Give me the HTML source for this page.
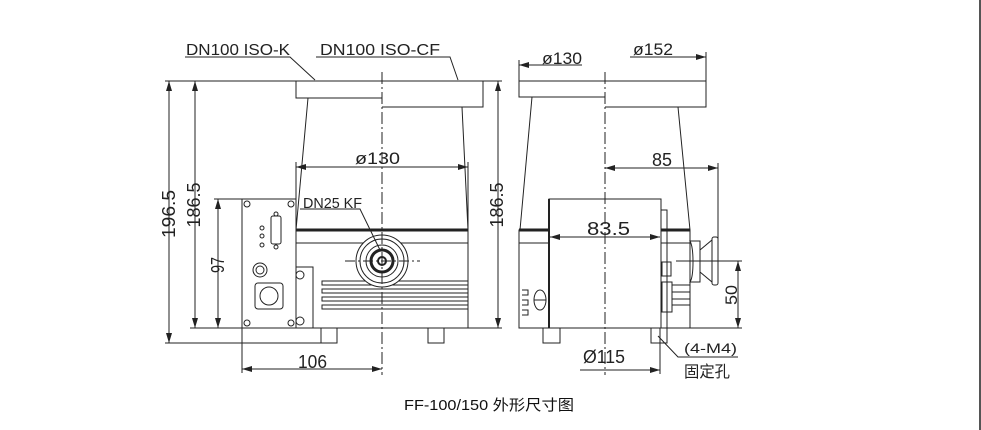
<!DOCTYPE html>
<html><head><meta charset="utf-8"><style>
html,body{margin:0;padding:0;background:#fff;width:981px;height:430px;overflow:hidden}
svg{display:block}
.t{font-family:"Liberation Sans Narrow","Liberation Sans",sans-serif;fill:#222}
</style></head><body>
<svg width="981" height="430" viewBox="0 0 981 430" xmlns="http://www.w3.org/2000/svg">
<defs>
<marker id="a" viewBox="0 0 10 6" refX="10" refY="3" markerWidth="10" markerHeight="6" orient="auto-start-reverse" markerUnits="userSpaceOnUse"><path d="M0,0L10,3L0,6z" fill="#222"/></marker>
</defs>
<g stroke="#222" fill="none" stroke-width="1">
<path d="M296,81H483V107H382M382,98H296V81"/>
<path d="M308,98L296,230M462,107L468,230"/>
<rect x="296" y="230" width="172" height="98"/>
<line x1="296" y1="230" x2="468" y2="230" stroke-width="3"/>
<line x1="296" y1="243" x2="468" y2="243"/>
<g>
<rect x="322" y="281" width="146" height="4"/><rect x="322" y="289" width="146" height="4"/>
<rect x="322" y="297" width="146" height="4"/><rect x="322" y="305" width="146" height="4"/>
</g>
<circle cx="382" cy="261" r="26" fill="#fff"/>
<circle cx="382" cy="261" r="22"/>
<circle cx="382" cy="261" r="16"/>
<circle cx="382" cy="261" r="11" stroke-width="3"/>
<circle cx="382" cy="261" r="4" stroke-width="2"/>
<line x1="345" y1="261" x2="420" y2="261" stroke-dasharray="10,3,2,3"/>
<rect x="242" y="199" width="54" height="129"/>
<rect x="296" y="267" width="17" height="61"/>
<circle cx="300" cy="275" r="4"/><circle cx="300" cy="321" r="4"/>
<circle cx="247" cy="204" r="3"/><circle cx="291" cy="204" r="3"/><circle cx="247" cy="323" r="3"/><circle cx="291" cy="323" r="3"/>
<rect x="271" y="216" width="10" height="28" rx="2"/>
<circle cx="276" cy="214" r="2"/><circle cx="276" cy="247" r="2"/>
<circle cx="262" cy="228" r="2"/><circle cx="262" cy="236" r="2"/><circle cx="262" cy="245" r="2"/>
<circle cx="260" cy="270" r="7"/><circle cx="260" cy="270" r="4"/>
<rect x="255" y="283" width="28" height="26" rx="3"/>
<circle cx="269" cy="296" r="9"/>
<rect x="321" y="328" width="16" height="15"/><rect x="428" y="328" width="16" height="15"/>
<line x1="382" y1="72" x2="382" y2="375" stroke-dasharray="12,3,2,3"/>
<path d="M165,81H296M190,328H296M165,343H321M214,199H242"/>
<line x1="169" y1="81" x2="169" y2="343" marker-start="url(#a)" marker-end="url(#a)"/>
<line x1="195" y1="81" x2="195" y2="328" marker-start="url(#a)" marker-end="url(#a)"/>
<line x1="218" y1="199" x2="218" y2="328" marker-start="url(#a)" marker-end="url(#a)"/>
<path d="M483,81H502M468,328H502"/>
<line x1="498" y1="81" x2="498" y2="328" marker-start="url(#a)" marker-end="url(#a)"/>
<line x1="296" y1="162" x2="296" y2="230"/><line x1="468" y1="162" x2="468" y2="230"/>
<line x1="296" y1="167" x2="468" y2="167" marker-start="url(#a)" marker-end="url(#a)"/>
<line x1="242" y1="328" x2="242" y2="373"/>
<line x1="242" y1="369" x2="382" y2="369" marker-start="url(#a)" marker-end="url(#a)"/>
<path d="M185,57H290L315,80" />
<path d="M316,57H450L458,80"/>
<path d="M300,209H360L380,250"/>
<path d="M519,81H706V107H605M605,97H519V81"/>
<path d="M532,97L520,230M678,107L690,230"/>
<rect x="519" y="230" width="171" height="98"/>
<line x1="519" y1="230" x2="690" y2="230" stroke-width="3"/>
<line x1="519" y1="243" x2="690" y2="243"/>
<rect x="549" y="199" width="112" height="129" fill="#fff"/>
<line x1="549" y1="199" x2="549" y2="328" stroke-width="2"/>
<rect x="661" y="210" width="6" height="118"/>
<rect x="662" y="262" width="9" height="14"/>
<rect x="662" y="282" width="10" height="30"/>
<path d="M672,285H690M672,292H690M672,299H690M672,305H690"/>
<path d="M690,241C694,248 694,276 690,282H700V241Z"/>
<path d="M700,250L712,240V282L700,272"/>
<rect x="712" y="237" width="6" height="48" rx="2"/>
<path d="M522,290H528V295H522M522,300H528V305H522M522,310H528V315H522"/>
<ellipse cx="540" cy="300" rx="6" ry="10"/><line x1="534" y1="300" x2="546" y2="300"/>
<rect x="543" y="328" width="17" height="15"/><rect x="651" y="328" width="16" height="15"/>
<line x1="605" y1="72" x2="605" y2="375" stroke-dasharray="12,3,2,3"/>
<line x1="519" y1="60" x2="519" y2="81"/>
<line x1="519" y1="65" x2="582" y2="65" marker-start="url(#a)"/>
<line x1="706" y1="52" x2="706" y2="81"/>
<line x1="630" y1="57" x2="706" y2="57" marker-end="url(#a)"/>
<line x1="718" y1="163" x2="718" y2="240"/>
<line x1="605" y1="168" x2="718" y2="168" marker-start="url(#a)" marker-end="url(#a)"/>
<line x1="550" y1="237" x2="660" y2="237" marker-start="url(#a)" marker-end="url(#a)"/>
<path d="M676,261H742M690,328H742"/>
<line x1="738" y1="261" x2="738" y2="328" marker-start="url(#a)" marker-end="url(#a)"/>
<line x1="660" y1="328" x2="660" y2="374"/>
<line x1="580" y1="370" x2="660" y2="370" marker-end="url(#a)"/>
<path d="M658,336L678,357H738"/>
</g>
<g class="t" lengthAdjust="spacingAndGlyphs">
<text x="186" y="55" font-size="16" textLength="104" lengthAdjust="spacingAndGlyphs">DN100 ISO-K</text>
<text x="320" y="55" font-size="16" textLength="120" lengthAdjust="spacingAndGlyphs">DN100 ISO-CF</text>
<text x="355" y="164" font-size="17" textLength="45" lengthAdjust="spacingAndGlyphs">ø130</text>
<text x="303" y="208" font-size="15" textLength="59" lengthAdjust="spacingAndGlyphs">DN25 KF</text>
<text x="298" y="368" font-size="18" textLength="29" lengthAdjust="spacingAndGlyphs">106</text>
<text transform="translate(175,214) rotate(-90)" font-size="18" text-anchor="middle" textLength="48" lengthAdjust="spacingAndGlyphs">196.5</text>
<text transform="translate(200,205) rotate(-90)" font-size="18" text-anchor="middle" textLength="45" lengthAdjust="spacingAndGlyphs">186.5</text>
<text transform="translate(224,265) rotate(-90)" font-size="18" text-anchor="middle" textLength="16" lengthAdjust="spacingAndGlyphs">97</text>
<text transform="translate(503,205) rotate(-90)" font-size="18" text-anchor="middle" textLength="45" lengthAdjust="spacingAndGlyphs">186.5</text>
<text x="542" y="64" font-size="17" textLength="40" lengthAdjust="spacingAndGlyphs">ø130</text>
<text x="633" y="55" font-size="17" textLength="40" lengthAdjust="spacingAndGlyphs">ø152</text>
<text x="652" y="166" font-size="18" textLength="20" lengthAdjust="spacingAndGlyphs">85</text>
<text x="587" y="235" font-size="18" textLength="43" lengthAdjust="spacingAndGlyphs">83.5</text>
<text transform="translate(737,295) rotate(-90)" font-size="17" text-anchor="middle" textLength="20" lengthAdjust="spacingAndGlyphs">50</text>
<text x="583" y="363" font-size="18" textLength="42" lengthAdjust="spacingAndGlyphs">Ø115</text>
<text x="684" y="353" font-size="14" textLength="53" lengthAdjust="spacingAndGlyphs">(4-M4)</text>
<text x="684" y="377" font-size="16" font-family="Liberation Sans,'Noto Sans CJK SC',sans-serif" textLength="46" lengthAdjust="spacingAndGlyphs">固定孔</text>
</g>
<text x="404" y="410" font-size="15" textLength="170" lengthAdjust="spacingAndGlyphs" font-family="Liberation Sans,'Noto Sans CJK SC',sans-serif" fill="#111">FF-100/150 外形尺寸图</text>
<line x1="980" y1="0" x2="980" y2="430" stroke="#555" stroke-width="2"/>
</svg>
</body></html>
